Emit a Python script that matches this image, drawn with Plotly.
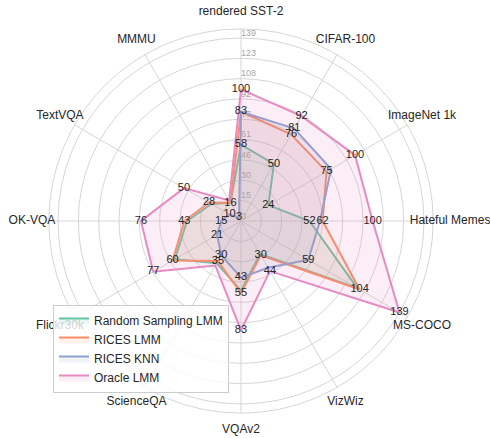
import numpy as np
import plotly.graph_objects as go

categories = ["rendered SST-2", "CIFAR-100", "ImageNet 1k", "Hateful Memes", "MS-COCO",
              "VizWiz", "VQAv2", "ScienceQA", "Flickr30k", "OK-VQA", "TextVQA", "MMMU"]

random_sampling_lmm = [58, 50, 24, 52, 102, 29, 53, 37, 58, 41, 26, 16]
rices_lmm = [83, 76, 75, 62, 104, 30, 55, 35, 60, 43, 28, 16]
rices_knn = [83, 81, 79, 60, 59, 41, 43, 30, 21, 15, 10, 3]
oracle_lmm = [100, 92, 100, 100, 139, 44, 83, 39, 77, 76, 50, 18]

series_names = ["Random Sampling LMM", "RICES LMM", "RICES KNN", "Oracle LMM"]
series_values = [random_sampling_lmm, rices_lmm, rices_knn, oracle_lmm]
colors = ["#66c2a5", "#fc8d62", "#8da0cb", "#e78ac3"]
fills = ["rgba(102,194,165,0.12)", "rgba(252,141,98,0.12)", "rgba(141,160,203,0.12)", "rgba(231,138,195,0.15)"]

rmax = max(max(v) for v in series_values)
tickvals = np.linspace(0, rmax, 10)
ticktext = [str(int(t)) for t in tickvals]
spine_factor = 1.05    # outer circle slightly beyond the largest value
label_factor = 1.1425  # category labels
outer_factor = 1.16    # invisible polar holding the category labels

# label de-duplication: skip a value label when it is close to one already shown
priority = [1, 3, 2, 0]
shown = [[] for _ in categories]
texts = [[""] * len(categories) for _ in series_values]
for s in priority:
    for i, v in enumerate(series_values[s]):
        if all(abs(v - u) >= 5 for u in shown[i]):
            shown[i].append(v)
            texts[s][i] = str(v)

fig = go.Figure()

# radial tick labels along the first axis
fig.add_trace(go.Scatterpolar(
    r=tickvals, theta=[categories[0]] * len(tickvals), mode="text", text=ticktext,
    textposition="top right", showlegend=False, cliponaxis=False, hoverinfo="skip",
    textfont=dict(size=9, color="#a8a8a8", family="Liberation Sans"),
))

for name, vals, col, fc in zip(series_names, series_values, colors, fills):
    fig.add_trace(go.Scatterpolar(
        r=vals + [vals[0]], theta=categories + [categories[0]],
        mode="lines", name=name, line=dict(color=col, width=2),
        fill="toself", fillcolor=fc,
    ))
for name, vals, txt in zip(series_names, series_values, texts):
    fig.add_trace(go.Scatterpolar(
        r=vals, theta=categories, mode="text", text=txt, showlegend=False,
        textposition="middle center", cliponaxis=False,
        textfont=dict(size=11, color="#262626", family="Liberation Sans"),
        hoverinfo="skip",
    ))

# category labels on a concentric, invisible polar so they sit centered outside the circle
fig.add_trace(go.Scatterpolar(
    r=[rmax * label_factor] * len(categories), theta=categories, mode="text", text=categories,
    textposition="middle center", showlegend=False, cliponaxis=False, hoverinfo="skip",
    subplot="polar2",
    textfont=dict(size=12, color="#262626", family="Liberation Sans"),
))

W, H = 490, 438
cx, cy = 241, 221
px_per_unit = 183 / rmax

def dom(rng):
    rad = rng * px_per_unit
    return dict(x=[(cx - rad) / W, (cx + rad) / W],
                y=[(H - cy - rad) / H, (H - cy + rad) / H])

fig.update_layout(
    width=W, height=H,
    margin=dict(l=0, r=0, t=0, b=0),
    paper_bgcolor="white",
    font=dict(family="Liberation Sans", color="#262626", size=12),
    polar=dict(
        domain=dom(rmax * spine_factor),
        bgcolor="white",
        angularaxis=dict(rotation=90, direction="clockwise", gridcolor="#d6d6d6",
                         linecolor="#d6d6d6", showline=True, ticks="",
                         showticklabels=False, layer="below traces"),
        radialaxis=dict(range=[0, rmax * spine_factor], tickvals=tickvals, angle=90,
                        showline=False, gridcolor="#d6d6d6", showticklabels=False,
                        ticks="", layer="below traces"),
    ),
    polar2=dict(
        domain=dom(rmax * outer_factor),
        bgcolor="rgba(0,0,0,0)",
        angularaxis=dict(rotation=90, direction="clockwise", categoryarray=categories,
                         categoryorder="array", visible=False),
        radialaxis=dict(range=[0, rmax * outer_factor], visible=False),
    ),
    legend=dict(x=53 / W, y=1 - 305 / H, xanchor="left", yanchor="top",
                bgcolor="rgba(255,255,255,0.8)", bordercolor="#cccccc", borderwidth=1,
                tracegroupgap=0, font=dict(size=12, color="#262626")),
)
fig.write_html("out.html", post_script="document.body.style.margin='0';",
               config={"displayModeBar": False})
